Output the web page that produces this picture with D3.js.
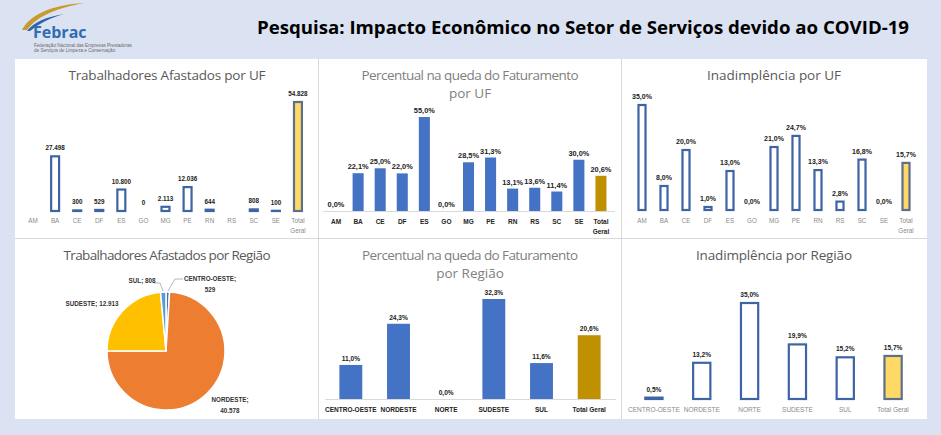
<!DOCTYPE html>
<html lang="pt-BR">
<head>
<meta charset="UTF-8">
<title>Pesquisa COVID-19 Febrac</title>
<script src="https://d3js.org/d3.v7.min.js"></script>
<style>
    html, body { margin: 0; padding: 0; background: #dbe2f1; }
    svg { display: block; }
    .ttl { font-family: "Open Sans", sans-serif; }
    .lbl { font-family: "Liberation Sans", Arial, sans-serif; }
</style>
</head>
<body>
<div id="chart"></div>
<script>
    // data
    const ufCats = ["AM", "BA", "CE", "DF", "ES", "GO", "MG", "PE", "RN", "RS", "SC", "SE", "Total Geral"];
    const afastadosUF = [null, 27498, 300, 529, 10800, 0, 2113, 12036, 644, null, 808, 100, 54828];
    const quedaUF = [0, 22.1, 25.0, 22.0, 55.0, 0, 28.5, 31.3, 13.1, 13.6, 11.4, 30.0, 20.6];
    const inadUF = [35.0, 8.0, 20.0, 1.0, 13.0, 0, 21.0, 24.7, 13.3, 2.8, 16.8, 0, 15.7];

    const regCats = ["CENTRO-OESTE", "NORDESTE", "NORTE", "SUDESTE", "SUL", "Total Geral"];
    const quedaReg = [11.0, 24.3, 0, 32.3, 11.6, 20.6];
    const inadReg = [0.5, 13.2, 35.0, 19.9, 15.2, 15.7];

    const pieCats = ["CENTRO-OESTE", "NORDESTE", "NORTE", "SUDESTE", "SUL"];
    const pieVals = [529, 40578, 0, 12913, 808];

    const W = 941, H = 435;
    const loc = d3.formatLocale({decimal: ",", thousands: ".", grouping: [3], currency: ["R$", ""]});
    const fmtInt = loc.format(",d");
    const fmtPct = v => loc.format(".1f")(v) + "%";

    const svg = d3.select("#chart").append("svg")
        .attr("width", W).attr("height", H);

    // background + white card
    svg.append("rect").attr("width", W).attr("height", H).attr("fill", "#dbe2f1");
    svg.append("rect").attr("x", 15).attr("y", 59).attr("width", 912).attr("height", 360).attr("fill", "#fff");
    const grid = svg.append("g").attr("stroke", "#d9d9d9").attr("stroke-width", 1);
    grid.append("line").attr("x1", 318.5).attr("x2", 318.5).attr("y1", 59).attr("y2", 419);
    grid.append("line").attr("x1", 621.5).attr("x2", 621.5).attr("y1", 59).attr("y2", 419);
    grid.append("line").attr("x1", 15).attr("x2", 927).attr("y1", 238.5).attr("y2", 238.5);

    // logo
    const logo = svg.append("g");
    logo.append("path")
        .attr("d", "M22,30 C30,15 50,5 84,3 C58,8 38,15 27,30 Z")
        .attr("fill", "#c99a2e");
    logo.append("path")
        .attr("d", "M27,31 C34,22 46,17 64,14 C50,18 40,23 30,31 Z")
        .attr("fill", "#2d64ad");
    logo.append("text").attr("x", 33).attr("y", 37.5)
        .attr("font-family", "Open Sans, sans-serif").attr("font-weight", 700)
        .attr("font-size", 16).attr("fill", "#2f6db5")
        .text("Febrac");
    logo.append("text").attr("x", 34).attr("y", 46.5)
        .attr("font-family", "Liberation Sans, sans-serif").attr("font-size", 4.6).attr("fill", "#6b6b6b")
        .text("Federação Nacional das Empresas Prestadoras");
    logo.append("text").attr("x", 34).attr("y", 52)
        .attr("font-family", "Liberation Sans, sans-serif").attr("font-size", 4.6).attr("fill", "#6b6b6b")
        .text("de Serviços de Limpeza e Conservação");

    // header title
    svg.append("text")
        .attr("class", "ttl")
        .attr("x", 257).attr("y", 34)
        .attr("font-size", 17).attr("font-weight", 700).attr("fill", "#000")
        .attr("textLength", 652).attr("lengthAdjust", "spacingAndGlyphs")
        .text("Pesquisa: Impacto Econômico no Setor de Serviços devido ao COVID-19");

    function title(lines, cx, y0, width, color) {
        lines.forEach((t, i) => {
            svg.append("text").attr("class", "ttl")
                .attr("x", cx).attr("y", y0 + i * 18)
                .attr("text-anchor", "middle")
                .attr("font-size", 13.5).attr("fill", color)
                .attr("textLength", i === 0 ? width : null)
                .attr("lengthAdjust", "spacing")
                .text(t);
        });
    }

    // generic bar panel
    function barPanel(o) {
        const g = svg.append("g");
        const x = d3.scaleBand().domain(o.cats).range(o.xr)
            .paddingInner(o.pad).paddingOuter(o.pad / 2);
        const y = d3.scaleLinear().domain([0, d3.max(o.vals)]).range(o.yr);
        const bw = x.bandwidth();
        const rows = o.cats.map((c, i) => ({c, v: o.vals[i], total: c === "Total Geral"}));

        if (o.axis) {
            g.append("line")
                .attr("x1", o.xr[0] - 2).attr("x2", o.xr[1] + 3)
                .attr("y1", o.yr[0] + 0.5).attr("y2", o.yr[0] + 0.5)
                .attr("stroke", "#d9d9d9");
        }

        const bars = rows.filter(d => d.v != null && (o.outline ? d.v > 0 : true));
        g.selectAll("rect.bar").data(bars).join("rect")
            .attr("class", "bar")
            .attr("x", d => x(d.c))
            .attr("y", d => y(d.v))
            .attr("width", bw)
            .attr("height", d => y(0) - y(d.v))
            .attr("fill", d => d.total ? o.totalFill : (o.outline ? "#fff" : o.fill))
            .attr("stroke", d => o.outline ? (d.total ? "#5d6f8c" : "#3d64a5") : "none")
            .attr("stroke-width", o.outline ? 2.2 : 0);

        g.selectAll("text.val").data(rows.filter(d => d.v != null)).join("text")
            .attr("class", "val lbl")
            .attr("x", d => x(d.c) + bw / 2)
            .attr("y", d => y(d.v) - (o.outline ? 6 : 4))
            .attr("text-anchor", "middle")
            .attr("font-size", o.valSize).attr("font-weight", 700).attr("fill", "#222")
            .text(d => o.fmt(d.v));

        const cat = g.selectAll("text.cat").data(rows).join("text")
            .attr("class", "cat lbl")
            .attr("x", d => x(d.c) + bw / 2)
            .attr("y", o.catY)
            .attr("text-anchor", "middle")
            .attr("font-size", o.catSize)
            .attr("font-weight", o.catBold ? 700 : 400)
            .attr("fill", o.catBold ? "#222" : "#8a8a8a");
        cat.each(function(d) {
            const parts = o.split ? d.c.split(" ") : [d.c];
            d3.select(this).selectAll("tspan").data(parts).join("tspan")
                .attr("x", x(d.c) + bw / 2)
                .attr("dy", (p, i) => i === 0 ? 0 : 9.5)
                .text(p => p);
        });
    }

    // top row
    title(["Trabalhadores Afastados por UF"], 167, 80, 197, "#595959");
    barPanel({cats: ufCats, vals: afastadosUF, xr: [22, 309], pad: 0.64, yr: [211, 102],
        outline: true, totalFill: "#ffd966", fmt: fmtInt, valSize: 6.3,
        catY: 223, catSize: 6.3, catBold: false, split: true});

    title(["Percentual na queda do Faturamento", "por UF"], 470, 80, 217, "#808080");
    barPanel({cats: ufCats, vals: quedaUF, xr: [325, 612], pad: 0.5, yr: [211, 117],
        outline: false, fill: "#4472c4", totalFill: "#bf9000", fmt: fmtPct, valSize: 7.4,
        catY: 224, catSize: 6.5, catBold: true, split: true, axis: true});

    title(["Inadimplência por UF"], 774, 80, 134, "#595959");
    barPanel({cats: ufCats, vals: inadUF, xr: [631, 917], pad: 0.68, yr: [210, 105],
        outline: true, totalFill: "#ffd966", fmt: fmtPct, valSize: 7,
        catY: 223, catSize: 6.3, catBold: false, split: true});

    // bottom row
    title(["Percentual na queda do Faturamento", "por Região"], 470, 260, 216, "#808080");
    barPanel({cats: regCats, vals: quedaReg, xr: [327, 613], pad: 0.52, yr: [399, 299],
        outline: false, fill: "#4472c4", totalFill: "#bf9000", fmt: fmtPct, valSize: 6.6,
        catY: 412, catSize: 6.5, catBold: true, split: false, axis: true});

    title(["Inadimplência por Região"], 774, 260, 156, "#595959");
    barPanel({cats: regCats, vals: inadReg, xr: [630, 917], pad: 0.64, yr: [399, 303],
        outline: true, totalFill: "#ffd966", fmt: fmtPct, valSize: 6.6,
        catY: 412, catSize: 6.5, catBold: false, split: false});

    // pie
    title(["Trabalhadores Afastados por Região"], 167, 260, 207, "#595959");
    const pieColors = d3.scaleOrdinal().domain(pieCats)
        .range(["#4472c4", "#ed7d31", "#a5a5a5", "#ffc000", "#5b9bd5"]);
    const R = 59, cx = 166, cy = 351;
    const pieG = svg.append("g").attr("transform", `translate(${cx},${cy})`);
    const arcs = d3.pie().sort(null).value(d => d.v)(pieCats.map((c, i) => ({c, v: pieVals[i]})));
    const arc = d3.arc().innerRadius(0).outerRadius(R);
    pieG.selectAll("path").data(arcs.filter(a => a.data.v > 0)).join("path")
        .attr("d", arc)
        .attr("fill", a => pieColors(a.data.c))
        .attr("stroke", "#fff").attr("stroke-width", 1.5);

    // label placement (relative to pie centre)
    const pieLabels = {
        "CENTRO-OESTE": {x: 44, y: -70, lines: 2, leader: [[17, -72], [9, -72], [2, -60]]},
        "NORDESTE": {x: 64, y: 51, lines: 2},
        "SUDESTE": {x: -74, y: -45, lines: 1},
        "SUL": {x: -24, y: -68, lines: 1, leader: [[-12, -68], [-6, -68], [-3, -60]]}
    };
    arcs.filter(a => a.data.v > 0).forEach(a => {
        const p = pieLabels[a.data.c];
        const txt = a.data.c + "; " + fmtInt(a.data.v);
        const parts = p.lines === 2 ? [a.data.c + ";", fmtInt(a.data.v)] : [txt];
        if (p.leader) {
            pieG.append("polyline")
                .attr("points", p.leader.map(q => q.join(",")).join(" "))
                .attr("fill", "none").attr("stroke", "#a6a6a6").attr("stroke-width", 0.8);
        }
        const t = pieG.append("text").attr("class", "lbl")
            .attr("x", p.x).attr("y", p.y)
            .attr("text-anchor", "middle")
            .attr("font-size", 6.3).attr("font-weight", 700).attr("fill", "#333");
        t.selectAll("tspan").data(parts).join("tspan")
            .attr("x", p.x).attr("dy", (s, i) => i === 0 ? 0 : 11)
            .text(s => s);
    });
</script>
</body>
</html>
